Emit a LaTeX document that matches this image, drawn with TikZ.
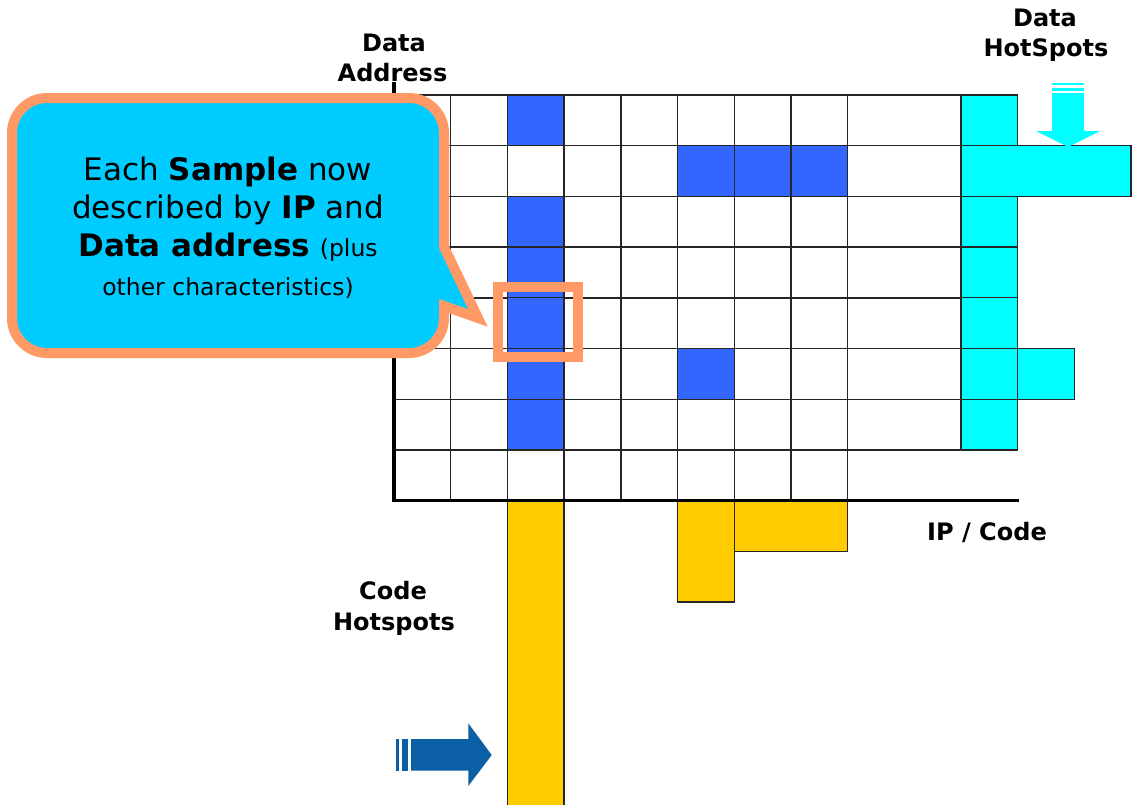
\documentclass[tikz,border=0pt]{standalone}
\usepackage{fontspec}
\setmainfont{DejaVu Sans}
\definecolor{cellblue}{HTML}{3366FF}
\definecolor{hotcyan}{HTML}{00FFFF}
\definecolor{codeyellow}{HTML}{FFCC00}
\definecolor{calloutfill}{HTML}{00CCFF}
\definecolor{calloutedge}{HTML}{FF9966}
\definecolor{arrowblue}{HTML}{0B5FA5}
\newcommand{\colw}{56.7}
\newcommand{\rowh}{50.7}
\newcommand{\smallsize}{\fontsize{23.5}{28}\selectfont}
% one filled cell of the sample grid: column, row, colour
\newcommand{\hotcell}[3]{%
  \filldraw[cellbox, fill=#3] ({394+#1*\colw},{95+#2*\rowh}) rectangle ++(\colw,\rowh);}

\begin{document}
\begin{tikzpicture}[x=1pt, y=-1pt,
  gridline/.style={line width=1.4pt, draw=black!85},
  cellbox/.style={line width=1.3pt, draw=black!85},
  axisline/.style={line width=3.5pt},
  axislabel/.style={font=\fontsize{24}{28}\selectfont\bfseries, anchor=base, inner sep=0pt},
  callouttext/.style={font=\fontsize{31}{36}\selectfont, anchor=base, inner sep=0pt}]
  \useasboundingbox (0,0) rectangle (1132,804);

  % Grid lines
  \foreach \j in {0,...,7} {
    \draw[gridline] (394,{95+\j*\rowh}) -- (961,{95+\j*\rowh});
  }
  \foreach \i in {1,...,8} {
    \draw[gridline] ({394+\i*\colw},95) -- ({394+\i*\colw},{95+8*\rowh});
  }

  % Samples (blue)
  \foreach \j in {0,2,3,4,5,6} {
    \hotcell{2}{\j}{cellblue}
  }
  \foreach \i in {5,6,7} {
    \hotcell{\i}{1}{cellblue}
  }
  \hotcell{5}{5}{cellblue}

  % Data hotspots (cyan)
  \foreach \j in {0,...,6} {
    \hotcell{10}{\j}{hotcyan}
  }
  \filldraw[cellbox, fill=hotcyan] ({394+10*\colw},{95+\rowh}) rectangle ++({3*\colw},\rowh);
  \hotcell{11}{5}{hotcyan}

  % Code hotspots (yellow)
  \filldraw[cellbox, fill=codeyellow] ({394+2*\colw},{95+8*\rowh}) rectangle ++(\colw,320);
  \filldraw[cellbox, fill=codeyellow] ({394+5*\colw},{95+8*\rowh}) rectangle ++(\colw,{2*\rowh});
  \filldraw[cellbox, fill=codeyellow] ({394+6*\colw},{95+8*\rowh}) rectangle ++({2*\colw},\rowh);

  % Axes
  \draw[axisline] (394,82) -- (394,{95+8*\rowh}) -- (1019,{95+8*\rowh});

  % Callout
  \draw[calloutedge, fill=calloutfill, line width=10pt, rounded corners=35pt]
    (12,225) -- (12,98) -- (444,98) [sharp corners] -- (444,247) -- (478,318)
    -- (444,306) [rounded corners=35pt] -- (444,353) -- (12,353) -- cycle;
  \node[callouttext] (line1) at (228,180) {Each \textbf{Sample} now};
  \node[callouttext] (line2) at (228,218.3) {described by \textbf{IP} and};
  \node[callouttext] (line3) at (228,256.7) {\textbf{Data address} {\smallsize(plus}};
  \node[callouttext, font=\smallsize] (line4) at (228,295) {other characteristics)};

  % Highlighted sample
  \draw[calloutedge, line width=10pt] (497.5,287) rectangle (577.7,356.5);

  % Arrows
  \fill[hotcyan] (1052,83) rectangle (1084,85.3);
  \fill[hotcyan] (1052,87.7) rectangle (1084,91);
  \fill[hotcyan] (1052,93) -- (1084,93) -- (1084,131) -- (1100,131) -- (1068,147)
    -- (1036,131) -- (1052,131) -- cycle;
  \fill[arrowblue] (396,739) rectangle (399.3,770.7);
  \fill[arrowblue] (402,739) rectangle (408,770.7);
  \fill[arrowblue] (411,739) -- (468.3,739) -- (468.3,723.3) -- (491.7,755)
    -- (468.3,786) -- (468.3,770.7) -- (411,770.7) -- cycle;

  % Labels
  \node[axislabel] (addr1) at (394,51.7) {Data};
  \node[axislabel] (addr2) at (392.5,81.7) {Address};
  \node[axislabel] (dhot1) at (1045,26.7) {Data};
  \node[axislabel] (dhot2) at (1046,56.7) {HotSpots};
  \node[axislabel] (ipcode) at (987,540) {IP / Code};
  \node[axislabel] (chot1) at (393,599.3) {Code};
  \node[axislabel] (chot2) at (394,630) {Hotspots};
\end{tikzpicture}
\end{document}
